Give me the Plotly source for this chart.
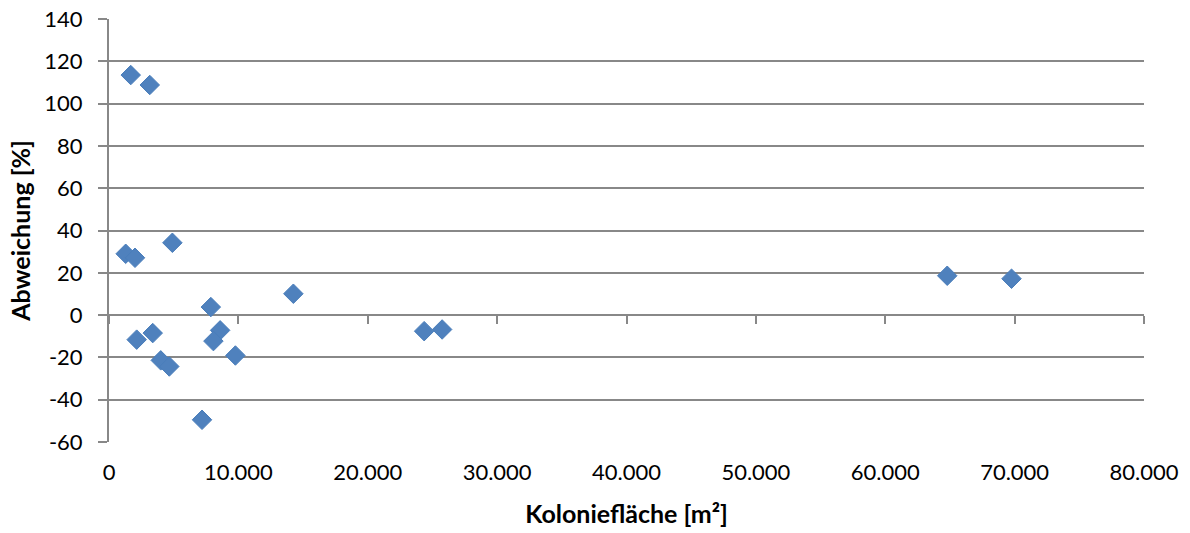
import plotly.graph_objects as go

# Colony area [m²] and deviation [%] per colony
flaeche = [1680, 3150, 4900, 1290, 2010, 14250, 7870, 2140, 3380, 4000,
           4660, 8590, 8070, 9770, 7190, 24360, 25750, 64790, 69760]
abweichung = [113.5, 108.8, 34.2, 29.0, 27.1, 10.1, 3.8, -11.6, -8.5, -21.4,
              -24.3, -7.2, -12.3, -19.1, -49.5, -7.6, -6.8, 18.6, 17.2]

x_ticks = [0, 10000, 20000, 30000, 40000, 50000, 60000, 70000, 80000]
x_labels = ["0", "10.000", "20.000", "30.000", "40.000", "50.000", "60.000", "70.000", "80.000"]
y_ticks = [-60, -40, -20, 0, 20, 40, 60, 80, 100, 120, 140]
y_labels = ["-60", "-40", "-20", "0", "20", "40", "60", "80", "100", "120", "140"]

GRID = "#888888"
FONT = "Lato"

fig = go.Figure()
fig.add_trace(go.Scatter(
    x=flaeche, y=abweichung, mode="markers",
    marker=dict(symbol="diamond", size=15, color="#4F81BD",
                line=dict(color="#4A7EBB", width=1)),
    showlegend=False, hoverinfo="x+y",
))
# Tick marks hanging from the zero line
fig.add_trace(go.Scatter(x=[None], y=[None], xaxis="x2", showlegend=False))

fig.update_layout(
    width=1190, height=533,
    margin=dict(l=109, r=46, t=19, b=91, autoexpand=False),
    paper_bgcolor="white", plot_bgcolor="white",
    font=dict(family=FONT, color="#000000", size=22),
    xaxis=dict(
        range=[0, 80000], tickmode="array", tickvals=x_ticks, ticktext=x_labels,
        showgrid=False, zeroline=False, showline=False, ticks="",
        ticklabelstandoff=15,
        title=dict(text="<b>Koloniefläche [m²]</b>", font=dict(size=25), standoff=21),
    ),
    xaxis2=dict(
        range=[0, 80000], overlaying="x", anchor="free", position=0.3, side="bottom",
        tickmode="array", tickvals=x_ticks, showticklabels=False,
        ticks="outside", ticklen=8, tickwidth=2, tickcolor=GRID,
        showgrid=False, zeroline=False, showline=False,
    ),
    yaxis=dict(
        range=[-60, 140], tickmode="array", tickvals=y_ticks, ticktext=y_labels,
        showgrid=True, gridcolor=GRID, gridwidth=2,
        zeroline=False, showline=True, linecolor=GRID, linewidth=2,
        ticks="outside", ticklen=9, tickwidth=2, tickcolor=GRID,
        ticklabelstandoff=11,
        title=dict(text="<b>Abweichung [%]</b>", font=dict(size=25), standoff=7),
    ),
)

fig.write_html("out.html")
